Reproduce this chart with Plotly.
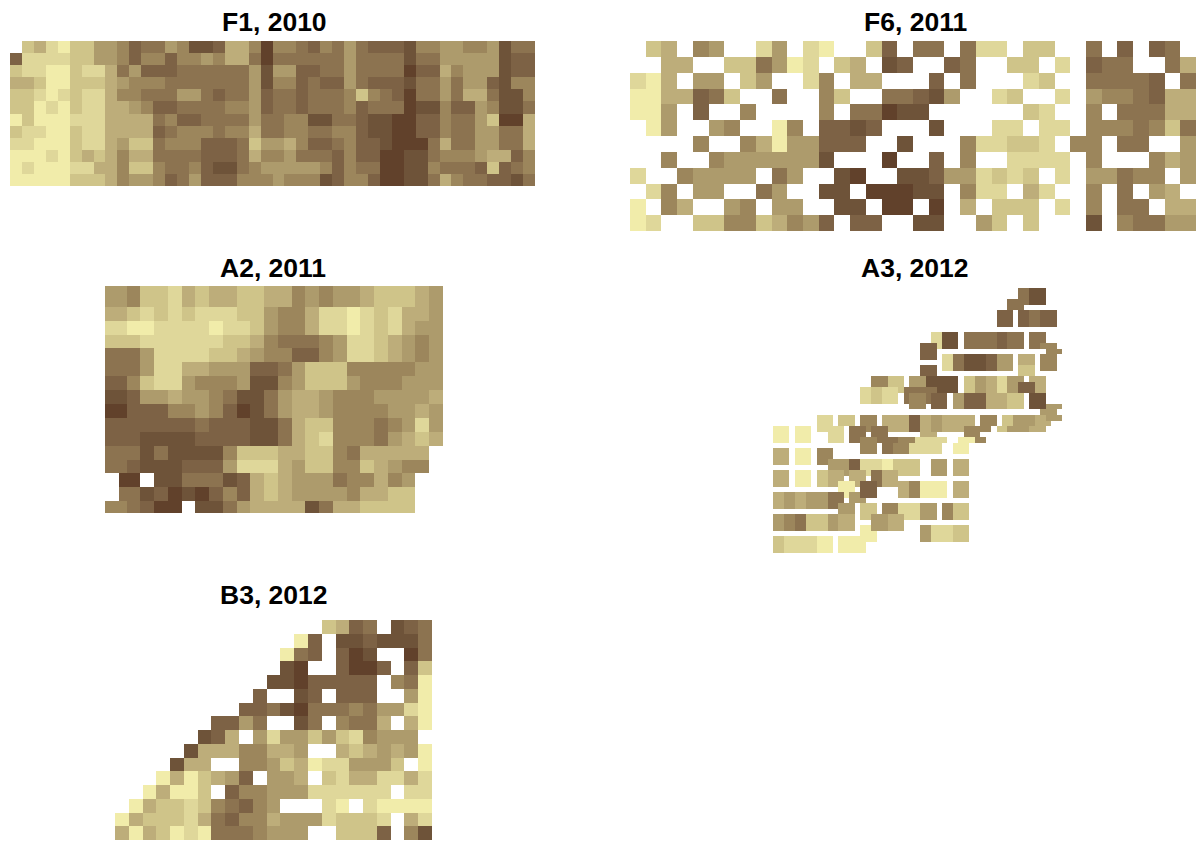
import numpy as np
import plotly.graph_objects as go

W, H = 1196, 841

# Colour class of every raster cell: 0 (pale) .. 9 (dark), "." = no data
palette = ["#f1ecaa", "#dfd79a", "#cfc489", "#bdad7a", "#ad9b6c", "#9c865c",
           "#8c7350", "#7d6245", "#6e5339", "#61412b"]

f1_2010 = [
". 2 3 1 0 2 2 4 4 5 7 6 6 4 5 8 8 7 3 3 5 9 5 5 6 7 5 6 4 6 7 7 7 8 5 5 4 4 5 5 4 8 6 6",
"7 1 1 1 1 2 2 4 4 5 7 5 5 7 5 5 4 5 3 3 6 9 6 6 6 6 6 6 4 6 6 6 6 8 6 6 4 4 4 4 4 8 7 7",
"2 1 1 0 0 2 1 1 3 6 4 7 7 7 6 6 6 6 6 6 4 8 4 4 7 7 6 6 4 6 6 6 6 9 7 7 3 5 4 4 4 8 7 7",
"3 3 2 0 0 2 2 2 3 4 5 5 5 6 6 6 6 6 6 6 4 8 5 5 7 6 7 7 4 6 7 7 7 8 6 6 4 6 4 4 7 8 5 5",
"2 2 1 0 1 2 1 1 3 5 5 6 6 6 4 4 6 7 6 6 4 7 6 6 7 6 6 6 5 2 5 6 7 9 6 6 4 6 3 3 6 8 8 5",
"2 2 0 1 0 2 1 1 3 3 4 5 7 7 6 6 6 6 5 5 4 7 6 6 7 6 6 6 5 7 6 6 6 9 8 8 5 7 7 4 5 8 8 6",
"0 2 0 0 0 1 1 1 3 3 3 3 6 5 7 7 6 6 6 6 4 6 6 5 5 8 8 6 6 7 8 8 9 9 7 7 5 6 6 4 2 9 9 3",
"2 1 1 0 0 2 1 1 3 3 3 3 7 6 5 5 5 6 5 5 3 6 6 5 5 6 6 5 5 7 8 8 9 9 7 7 5 6 6 4 4 6 6 3",
"1 1 0 0 0 2 1 1 3 4 2 2 6 5 5 5 7 7 7 6 2 4 4 3 5 7 7 6 5 7 7 8 9 9 9 6 3 6 6 4 4 6 6 3",
"0 0 0 1 0 2 3 2 3 5 3 3 6 6 6 6 7 7 7 6 3 5 5 4 6 6 6 7 5 7 7 9 9 8 8 6 5 5 5 4 3 3 7 5",
"0 1 0 0 0 1 1 3 3 5 2 2 5 6 6 5 7 8 8 6 5 4 4 4 4 4 5 7 5 6 6 9 9 8 8 5 6 6 6 7 2 7 6 5",
"0 0 0 0 0 2 2 2 3 5 4 4 5 7 6 4 7 7 7 5 5 5 4 5 5 5 8 7 5 5 7 9 9 8 8 6 3 5 6 6 7 7 8 6",
]

f6_2011 = [
". 2 3 . 5 4 . . 1 4 . 1 0 . . 2 7 . 6 6 . 6 1 1 . 2 2 . . 6 . 7 . 7 6 .",
". . 3 3 . . 2 2 6 4 0 1 . 2 3 . 8 7 . . 7 6 . . 2 2 . 1 . 7 6 6 . . 6 3",
"1 0 3 . 4 4 . 2 4 . . 1 5 . 3 3 . . . 7 . 6 . . . 1 2 . . 6 6 6 6 7 . 6",
"0 0 3 3 7 6 2 . . 6 . . 5 2 . . 6 6 7 8 4 . . 1 2 . . 1 . 4 5 5 6 7 3 3",
"0 0 4 . 7 . . 5 . . . . 5 . 6 6 9 8 8 . . . . . . 2 1 . . 5 . 6 6 6 3 3",
". 0 4 . . 4 5 . . 0 5 . 7 7 8 7 . . . 8 . . . 1 1 . 1 1 . 5 5 5 6 5 2 6",
". . . . 5 . . 5 3 0 4 4 7 7 7 . . 8 . . . 5 1 1 2 2 1 . 5 5 . 6 6 . . 4",
". . 5 . . 5 4 4 4 4 4 4 8 . . . 9 . . 7 . 5 . . 1 1 1 1 . 5 . . . 5 3 4",
"1 . . 5 4 4 4 4 . 6 4 . . 8 9 . . 8 8 7 4 4 1 2 1 2 . 1 . 4 4 6 5 5 . 4",
". 1 5 . 4 4 . . 6 4 . . 8 8 . 9 9 9 8 8 . 5 1 1 . 3 1 . . 5 . 6 . 4 3 .",
"0 . 5 3 . . 4 5 . 4 4 . . 8 8 . 9 9 . 9 . 3 . 2 2 2 . 1 . 5 . 6 6 . 3 3",
"0 1 . . 2 2 5 5 2 3 5 4 7 . 7 7 . . 8 8 . . 4 2 . 2 . . . 8 . 5 6 6 4 4",
]

a2_2011 = [
"44 5 2 2 1 3 2 3 3 2 2 3 3 5 4 5 4 4 3 2 2 2 3 4",
"33 2 1 2 1 2 1 1 1 2 2 4 5 5 3 1 1 0 1 2 1 3 3 4",
"11 0 0 1 1 1 1 0 1 1 2 4 5 5 3 1 1 0 1 2 1 3 4 4",
"22 2 1 1 1 1 1 1 2 2 3 5 6 6 6 5 4 1 1 2 3 4 5 4",
"66 6 4 1 1 1 1 2 2 3 4 5 5 7 7 5 4 1 1 2 3 4 5 4",
"66 6 4 1 1 3 3 4 4 4 7 7 6 4 2 2 2 5 5 5 5 5 4 4",
"77 5 2 1 1 4 5 5 5 4 8 8 5 4 2 2 2 4 5 5 5 4 4 4",
"88 7 4 4 3 4 4 5 6 8 8 6 4 3 3 4 5 5 5 4 4 4 4 3",
"99 7 7 7 5 5 4 5 7 9 8 6 4 3 3 4 5 5 5 5 4 4 3 4",
"77 7 7 7 7 7 6 7 7 7 8 8 6 3 2 2 5 5 5 6 5 4 1 4",
"77 7 8 8 8 8 7 7 7 7 8 8 6 3 2 1 5 5 5 6 4 3 2 3",
"66 6 8 6 8 8 8 8 5 2 2 2 3 3 2 2 5 6 3 3 3 3 3 .",
"66 7 8 8 8 7 7 7 4 1 1 1 3 4 2 2 5 5 2 3 4 5 5 .",
".9 9 . 8 8 6 6 6 8 7 3 2 3 4 4 4 6 5 5 3 5 4 . .",
".6 6 8 7 9 8 9 7 5 7 3 2 3 4 4 4 4 5 3 3 2 2 . .",
"55 6 7 9 9 . 8 8 6 4 3 3 3 3 8 6 3 3 2 2 2 2 . .",
]

a3_2012 = [
"............................................." "66888",
"............................................." "66888",
"..........................................." "6666888",
"..........................................." "666",
"........................................." "777.7766777",
"........................................." "777.7766777",
"........................................." "777.7766777",
"",
"............................." "11888.666666" "77666.666",
"............................." "11888.666666" "77666.666",
"..........................." "7771888.666666" "77666.66555",
"..........................." "777..................." "." "555",
"..........................." "777.11668888" "77444.333.555",
".............................." "." "11668888" "77444.333.555",
"..........................." "777.11668888" "77444.222.555",
"..........................." "777..............." "222",
".................." "555222.444888888.2244331144" "4.333",
".................." "555222.444888888.22443311" "44777" "33",
"................" "11221112666666" "8888.22443311" "4477733",
"................" "1122111.6555" "6777.447777" "3333222.888",
"................" "1122111.6555" "6777.447777" "3333222.888",
"........................." "555.777.447777" "3333222.888444",
"................................................." "444",
"........" "111.222.555.33333773344" "333333.555.224444" "33444",
"........" "111.222.555.33333773344" "333333.555.224444" "333",
"000.000." "11111.666" "5666" "3333" "77334433" "33" "55555.224444333",
"000.000...111.666.666......333.....555",
"000.000...111.66555" "666" "6555111111..00055",
"................555.66555111111..000",
"333.000.555.....555.66555111111..000",
"333.000.555",
"333.000.55" "4444" "77" "1111" "00" "22222" ".." "444" "." "333",
".........." "4444" "77" "1111" "00" "22222" ".." "444" "." "333",
"333.000.22333" "4" "333" "1" "66" "333" "2222" ".." "444" "." "333",
"333.000.22333.333.66333",
"333.000.22" "33" "000" "3" "777" "6" "333" "33" "55" "00000" "." "333",
"............000.777....335500000.333",
"3344334444" "66" "6" "0" "44" "777" "...." "33" "55" "00000" "." "333",
"3344334444" "666" "." "444",
"3344334444" "66" "444" "." "222" "." "555" "1111" "444" "." "55" "222",
"............" "444.222.555" "1111" "444" "." "55" "222",
"445566222244" "333" "." "22" "444" "333" "111" "444" "." "55" "222",
"445566222244" "333" "..." "444" "333",
"445566222244333" "." "00" "444" "333" "..." "44" "1111" "222",
"................000........" "44" "1111" "222",
"22111111000.00000" "00........" "44" "1111" "222",
"22111111000.00000",
"22111111000.00000",
]

b3_2012 = [
". . . . . . . . . . . . . . . 2 3 7 6 . 8 7 6",
". . . . . . . . . . . . . 0 7 . 8 8 7 8 8 8 6",
". . . . . . . . . . . . 0 6 7 . 7 9 8 . . 9 6",
". . . . . . . . . . . . 8 9 . . 7 9 9 7 . 7 2",
". . . . . . . . . . . 8 8 9 7 7 7 7 7 . 5 6 0",
". . . . . . . . . . 7 . . 8 7 . 7 7 7 . . 4 0",
". . . . . . . . . 7 7 6 8 9 6 6 6 5 6 4 4 1 0",
". . . . . . . 7 7 4 6 . . 8 6 . 5 6 6 3 . 3 0",
". . . . . . 8 7 3 . 4 1 4 4 2 4 2 1 5 4 4 4 .",
". . . . . 8 3 3 3 5 5 3 3 4 . . 3 2 3 4 3 4 0",
". . . . 8 3 3 . . 5 5 4 2 3 0 1 1 4 4 4 2 . 0",
". . . 0 3 0 2 3 4 7 . 4 4 3 . 2 1 3 3 1 1 3 1",
". . 0 3 0 0 2 . 7 5 5 4 4 4 1 1 1 1 1 1 . 1 1",
". 0 3 2 2 1 2 5 6 7 5 4 . . . 1 0 . 1 0 0 0 0",
"0 3 2 2 2 1 3 6 7 5 5 3 4 4 4 1 2 2 2 1 . 3 1",
"3 0 3 2 0 1 0 6 6 6 5 4 4 4 . . 2 2 2 7 . 5 8",
]

titles = ["F1, 2010", "F6, 2011", "A2, 2011", "A3, 2012", "B3, 2012"]


def grid(rows):
    parsed = [[None if c == "." else int(c) for c in r.replace(" ", "")] for r in rows]
    n = max(len(r) for r in parsed)
    return [r + [None] * (n - len(r)) for r in parsed]


# placement of each panel on the page: left, right, top, bottom in pixels, title centre
boxes = [(10, 535, 41, 186, 274, 22), (630, 1196, 41, 231, 915, 22),
         (105, 443, 286, 513, 273, 268), (773, 1062, 288, 553, 915, 268),
         (115, 432, 620, 840, 273.5, 595)]
datasets = [f1_2010, f6_2011, a2_2011, a3_2012, b3_2012]

scale = [[i / 9, c] for i, c in enumerate(palette)]
fig = go.Figure()
layout = {}
for k, (rows, box, title) in enumerate(zip(datasets, boxes, titles)):
    z = grid(rows)
    nrow, ncol = len(z), len(z[0])
    if title.startswith("A2"):
        xe = np.r_[0, 1.0, 1.57 + np.arange(ncol - 1)]
        ye = np.r_[0, 1.5 + np.arange(nrow - 1), nrow + 0.35]
    else:
        xe = np.arange(ncol + 1.0)
        ye = np.arange(nrow + 1.0)
    sfx = "" if k == 0 else str(k + 1)
    fig.add_trace(go.Heatmap(z=z, x=xe, y=ye, xaxis="x" + sfx, yaxis="y" + sfx,
                             colorscale=scale, zmin=0, zmax=9, showscale=False,
                             hoverongaps=False, zsmooth=False))
    x0, x1, y0, y1, tx, ty = box
    layout["xaxis" + sfx] = dict(domain=[x0 / W, x1 / W], range=[xe[0], xe[-1]], visible=False,
                                 anchor="y" + sfx)
    layout["yaxis" + sfx] = dict(domain=[1 - y1 / H, 1 - y0 / H], range=[ye[-1], ye[0]], visible=False,
                                 anchor="x" + sfx)
    fig.add_annotation(text="<b>%s</b>" % title, xref="paper", yref="paper", x=tx / W, y=1 - ty / H,
                       xanchor="center", yanchor="middle", showarrow=False,
                       font=dict(family="Liberation Sans", size=26.5, color="#000000"))

fig.update_layout(width=W, height=H, margin=dict(l=0, r=0, t=0, b=0), paper_bgcolor="white",
                  plot_bgcolor="white", showlegend=False, **layout)
fig.write_html("out.html", config={"displayModeBar": False},
               post_script="document.body.style.margin='0';")
